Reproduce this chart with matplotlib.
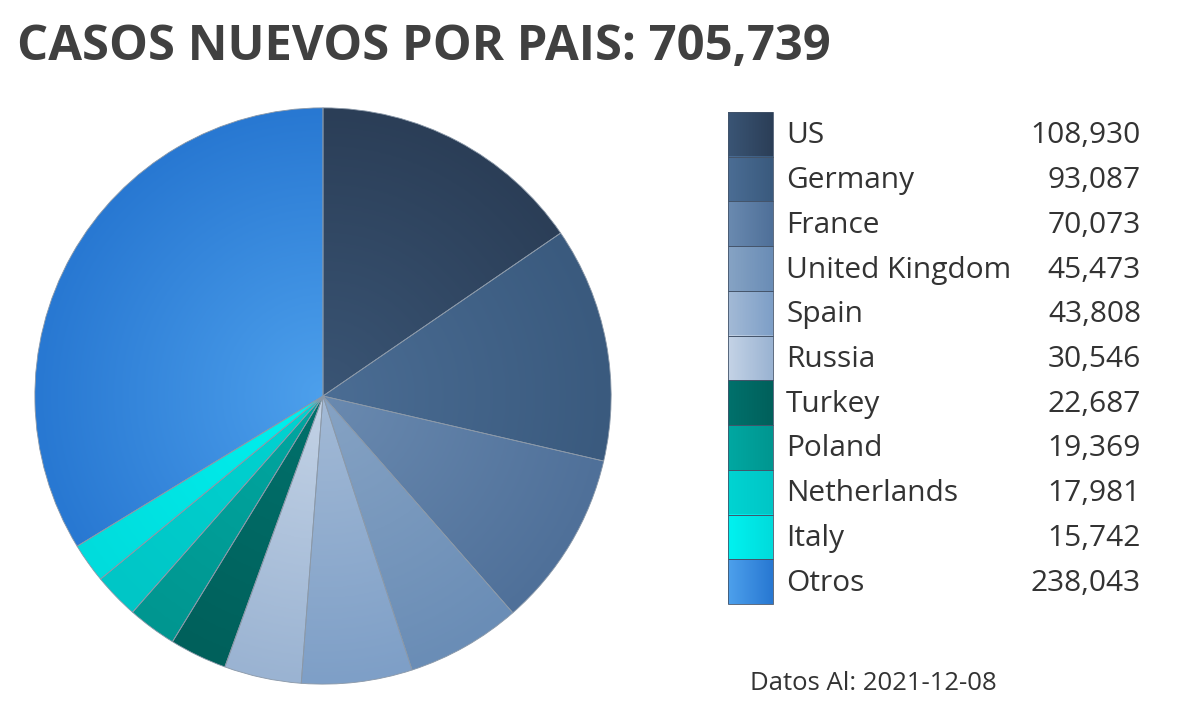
import numpy as np
import matplotlib
matplotlib.use("Agg")
import matplotlib.pyplot as plt
from matplotlib.colors import LinearSegmentedColormap, to_rgb
from matplotlib.patches import Rectangle

countries = ["US", "Germany", "France", "United Kingdom", "Spain", "Russia",
             "Turkey", "Poland", "Netherlands", "Italy", "Otros"]
cases = [108930, 93087, 70073, 45473, 43808, 30546, 22687, 19369, 17981, 15742, 238043]
total_label = "705,739"
date_label = "2021-12-08"

# inner (light) and outer (dark) colours of each slice gradient
inner_colors = ["#3a5575", "#4b6d94", "#6a8ab0", "#86a3c4", "#a3bad6", "#c4d3e6",
                "#00716c", "#00a8a2", "#00d4d2", "#00f2f0", "#4da0ec"]
outer_colors = ["#2b3e57", "#3a5a7e", "#4f7099", "#6a8db6", "#7e9fc7", "#9ab3d2",
                "#00605b", "#009690", "#00c6c6", "#00dcdc", "#2878d2"]

fig = plt.figure(figsize=(12, 7.11), dpi=100)
fig.patch.set_facecolor("white")

FONT = ["Open Sans", "DejaVu Sans"]
TXT = "#333333"

# Title
fig.text(17 / 1200, 1 - 47 / 711, f"CASOS NUEVOS POR PAIS: {total_label}",
         fontsize=35.3, fontweight="bold", color="#404040", family=FONT,
         ha="left", va="center")

# Pie
cx, cy, r = 323, 396, 289
W, H = 1200, 711
ax = fig.add_axes([(cx - r) / W, (H - cy - r) / H, 2 * r / W, 2 * r / H])
wedges, _ = ax.pie(cases, startangle=90, counterclock=False, radius=1,
                   colors=inner_colors,
                   wedgeprops=dict(edgecolor="#8a98a8", linewidth=0.6))
yy, xx = np.mgrid[-1:1:400j, -1:1:400j]
rr = np.sqrt(xx ** 2 + yy ** 2)
for w, c1, c2 in zip(wedges, inner_colors, outer_colors):
    cmap = LinearSegmentedColormap.from_list("g", [to_rgb(c1), to_rgb(c2)])
    im = ax.imshow(rr, extent=[-1, 1, -1, 1], origin="lower", cmap=cmap,
                   vmin=0, vmax=1, zorder=w.get_zorder() + 0.1, interpolation="bilinear")
    im.set_clip_path(w)
    w.set_facecolor("none")
    w.set_zorder(w.get_zorder() + 0.2)
ax.set_xlim(-1.003, 1.003)
ax.set_ylim(-1.003, 1.003)
ax.set_aspect("equal")
ax.axis("off")

# Legend
lx0, lx1 = 728, 773
ly0, ly1 = 112, 604
n = len(countries)
step = (ly1 - ly0) / n
lax = fig.add_axes([0, 0, 1, 1], facecolor="none")
lax.set_xlim(0, W)
lax.set_ylim(H, 0)
lax.axis("off")
for i, (name, val) in enumerate(zip(countries, cases)):
    y0 = ly0 + i * step
    # horizontal gradient box (lighter left, darker right)
    cmap = LinearSegmentedColormap.from_list("b", [to_rgb(inner_colors[i]), to_rgb(outer_colors[i])])
    grad = np.linspace(0, 1, 50).reshape(1, -1)
    lax.imshow(grad, extent=[lx0, lx1, y0 + step, y0], cmap=cmap, aspect="auto",
               interpolation="bilinear", zorder=1)
    lax.add_patch(Rectangle((lx0, y0), lx1 - lx0, step, facecolor="none",
                            edgecolor="#44546a", linewidth=0.6, zorder=2))
    yc = y0 + step / 2 + 1.5
    lax.text(786, yc, name, fontsize=21.5, color=TXT, family=FONT, ha="left", va="center")
    lax.text(1141, yc, f"{val:,}", fontsize=21.5, color=TXT, family=FONT, ha="right", va="center")
lax.set_xlim(0, W)
lax.set_ylim(H, 0)

fig.text(750 / W, 1 - 683 / H, f"Datos Al: {date_label}", fontsize=18.5, color=TXT,
         family=FONT, ha="left", va="center")

fig.savefig("out.png", dpi=100, facecolor="white")
